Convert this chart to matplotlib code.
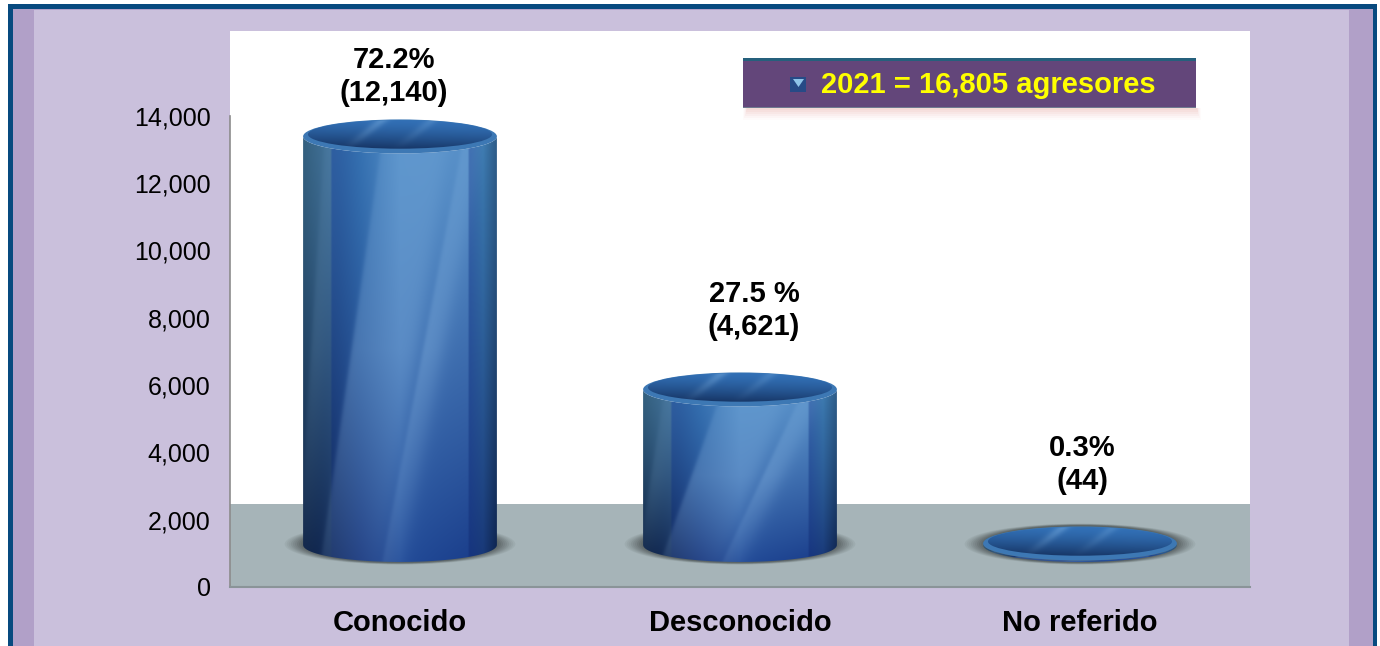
import numpy as np
import matplotlib
matplotlib.use("Agg")
import matplotlib.pyplot as plt
from matplotlib.patches import Rectangle, Ellipse, PathPatch, Polygon
from matplotlib.path import Path
from matplotlib.colors import to_rgb

plt.rcParams['font.family'] = ['Liberation Sans', 'DejaVu Sans']

categorias = ["Conocido", "Desconocido", "No referido"]
agresores = [12140, 4621, 44]
etiquetas = ["72.2%\n(12,140)", "27.5 %\n(4,621)", "0.3%\n(44)"]
ticks_y = [0, 2000, 4000, 6000, 8000, 10000, 12000, 14000]
leyenda = "2021 = 16,805 agresores"

W, H = 1380, 646
ESC = 0.03365          # px por agresor
BASE = 1250            # desplazamiento 3D del piso, en unidades del eje
SEMI = 17 / ESC        # semieje vertical de la elipse
ANCHO = 0.57
PISO = 2466
gap_y = [60, 79, 79]
gap_x = [-6, 14, 2]


def fx(px):
    return px / W


def fy(py):
    return 1 - py / H


def fig_rect(x0, y0, x1, y1, color, z=0, alpha=1.0):
    fig.add_artist(Rectangle((fx(x0), fy(y1)), fx(x1) - fx(x0), fy(y0) - fy(y1),
                             transform=fig.transFigure, color=color, lw=0, zorder=z, alpha=alpha))


def textura_cuerpo():
    # colores horizontales arriba y abajo del cilindro
    pos = [0, 0.14, 0.15, 0.3, 0.5, 0.85, 0.86, 0.93, 1]
    arriba = ["#34607f", "#44749c", "#2a5a9e", "#3672b2", "#558fc8", "#5890c8", "#3464aa", "#3a78ae", "#2e5c88"]
    abajo = ["#0c1f42", "#122a58", "#10275e", "#16337a", "#234c98", "#1b3f8c", "#16347e", "#183878", "#0e2450"]
    u = np.linspace(0, 1, 300)
    alto = np.array([np.interp(u, pos, [to_rgb(c)[k] for c in arriba]) for k in range(3)]).T
    bajo = np.array([np.interp(u, pos, [to_rgb(c)[k] for c in abajo]) for k in range(3)]).T
    vv = np.linspace(0, 1, 300)
    v = vv[:, None, None] ** 1.25
    img = alto * (1 - v) + bajo * v

    # reflejos suaves en diagonal
    U, V = np.meshgrid(u, vv)
    luz = np.array(to_rgb("#a8d4f8"))
    bandas = [(0.58, -0.32, 0.17, 0.26), (0.88, -0.42, 0.05, 0.26), (0.14, -0.14, 0.03, 0.12)]
    for c0, m, ancho, fuerza in bandas:
        c = c0 + m * V
        s = 0.5 * (np.tanh((U - c + ancho) / 0.012) - np.tanh((U - c - ancho) / 0.05))
        s = (s * np.clip(1 - np.abs(V - 0.5) * 1.1, 0, 1) * fuerza)[..., None]
        img = img * (1 - s) + luz * s
    return np.clip(img, 0, 1)


def textura_tapa():
    y, x = np.mgrid[0:1:80j, 0:1:200j]
    t = np.clip(1.1 * y - 0.12 + 0.15 * (1 - x), 0, 1)[..., None] ** 1.4
    img = np.array(to_rgb("#3270b6")) * (1 - t) + np.array(to_rgb("#14305e")) * t
    # dos brillos finos
    for c0, fuerza in [(0.42, 0.28), (0.68, 0.18)]:
        c = c0 - 0.22 * y
        s = (np.exp(-((x - c) / 0.035) ** 2) * np.clip(1.1 - y * 1.2, 0, 1) * fuerza)[..., None]
        img = img * (1 - s) + np.array(to_rgb("#a8d4f8")) * s
    return img


def elipse_xy(cx, cy, a, b, t):
    return cx + a * np.cos(t), cy + b * np.sin(t)


def cilindro(ax, i, valor):
    a = ANCHO / 2
    tope = BASE + valor

    # sombra en el piso
    for k, alfa in zip(np.linspace(1.19, 1.0, 10), [0.07] * 3 + [0.1] * 3 + [0.14] * 4):
        ax.add_patch(Ellipse((i, BASE + 0.05 * SEMI), 2 * a * k, 2 * SEMI * (0.55 + 0.55 * k), color="#3c4444",
                             alpha=alfa, lw=0, zorder=2))

    # cuerpo
    t = np.linspace(np.pi, 2 * np.pi, 60)
    xs, ys = elipse_xy(i, BASE, a, SEMI, t)
    xt, yt = elipse_xy(i, tope, a, SEMI, t[::-1])
    pts = np.column_stack([np.r_[xs, xt], np.r_[ys, yt]])
    cuerpo = PathPatch(Path(np.vstack([pts, pts[0]]), closed=True), fc="none", ec="none", zorder=3)
    ax.add_patch(cuerpo)
    im = ax.imshow(textura_cuerpo(), extent=(i - a, i + a, BASE - SEMI, tope), origin="upper",
                   aspect="auto", zorder=3, interpolation="bilinear")
    im.set_clip_path(cuerpo)

    # tapa
    ax.add_patch(Ellipse((i, tope), 2 * a, 2 * SEMI, fc="#3d78b4", ec="none", zorder=5))
    hueco = Ellipse((i, tope + 0.12 * SEMI), 2 * a * 0.95, 2 * SEMI * 0.84, fc="none", ec="none", zorder=6)
    ax.add_patch(hueco)
    im2 = ax.imshow(textura_tapa(), extent=(i - a, i + a, tope - SEMI, tope + SEMI), origin="upper",
                    aspect="auto", zorder=6, interpolation="bilinear")
    im2.set_clip_path(hueco)


fig = plt.figure(figsize=(W / 100, H / 100), dpi=100, facecolor="white")

# marco
fig_rect(8, 4, 1377, 646, "#074a7f", 0)
fig_rect(13, 9, 1373, 646, "#b1a0c8", 0.1)
fig_rect(34, 10, 1349, 646, "#cac0dc", 0.2)

ax = fig.add_axes([fx(230), fy(587), fx(1250) - fx(230), fy(31) - fy(587)], facecolor="white", zorder=1)

ax.axhspan(0, PISO, color="#a6b4b8", lw=0, zorder=1)

for i, valor in enumerate(agresores):
    cilindro(ax, i, valor)
    ax.annotate(etiquetas[i], (i, BASE + valor), xytext=(gap_x[i] * 0.72, gap_y[i] * 0.72), textcoords="offset points",
                ha="center", va="center", fontsize=21, fontweight="bold", color="black", zorder=8,
                linespacing=1.22)

ax.set_xlim(-0.5, 2.5)
ax.set_ylim(0, 556 / ESC)
ax.set_xticks(range(len(categorias)))
ax.set_xticklabels(categorias, fontsize=21, fontweight="bold", color="black")
ax.set_yticks(ticks_y)
ax.set_yticklabels([f"{t:,}" for t in ticks_y], fontsize=18, color="black")
ax.tick_params(axis="x", length=0, pad=16)
ax.tick_params(axis="y", length=0, pad=14)
for lado in ["top", "right"]:
    ax.spines[lado].set_visible(False)
ax.spines["left"].set_color("#8c8c8c")
ax.spines["left"].set_bounds(0, 14000)
ax.spines["left"].set_linewidth(1.2)
ax.spines["bottom"].set_color("#8a9498")
ax.spines["bottom"].set_linewidth(1.5)

# leyenda
for k, alfa in zip(range(12, 0, -2), [0.06, 0.1, 0.14, 0.18, 0.22, 0.26]):
    fig_rect(748 - k * 0.4, 108, 1196 + k * 0.4, 108 + k, "#efc9c4", 2, alfa)
fig_rect(743, 58, 1196, 108, "#63467a", 3)
fig_rect(743, 58, 1196, 61, "#25607c", 3.1)
fig_rect(743, 107, 1196, 108, "#6f7a90", 3.1)
fig_rect(790, 77, 806, 92, "#274a86", 3.2)
fig.add_artist(Polygon([(fx(793), fy(79)), (fx(804), fy(79)), (fx(798.5), fy(87))], transform=fig.transFigure,
                       fc="#8fc4e8", ec="none", zorder=3.3))
fig.text(fx(988), fy(85), leyenda, ha="center", va="center", fontsize=21, fontweight="bold",
         color="#ffff00", zorder=4)

fig.savefig("out.png", dpi=100)
